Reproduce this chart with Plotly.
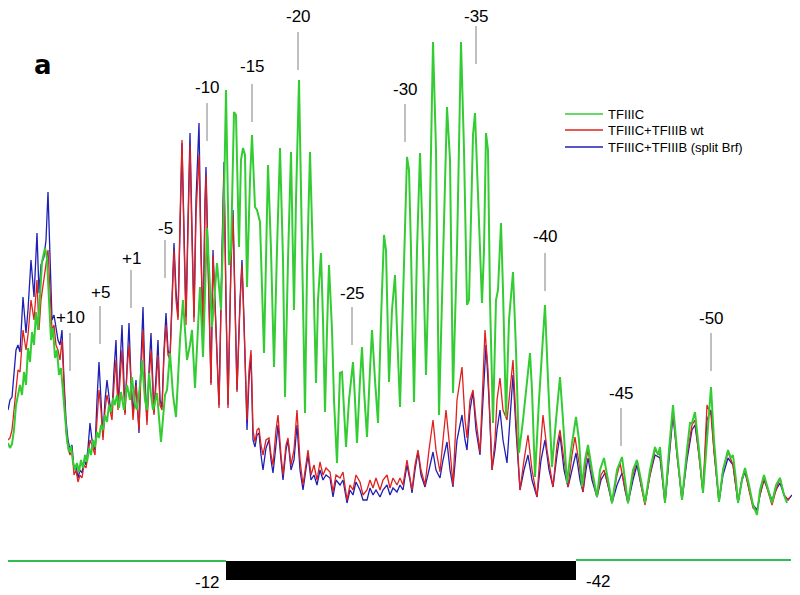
import plotly.graph_objects as go

green_x = [8,10,12,14,16,18,20,22,24,26,28,30,32,34,36,38,40,42,45,47,49,51,53,55,57,59,61,63,65,67,69,71,73,75,77,79,81,83,85,87,89,91,93,95,97,99,101,103,105,107,109,111,113,115,117,119,121,124,127,130,132,135,137,140,142,145,147,149,151,153,157,161,165,167,170,173,176,180,183,187,190,192,195,198,200,203,205,207,212,215,217,221,224,226,
           229,231,234,236,239,241,243,245,247,250,252,255,257,260,264,266,268,271,274,277,280,283,285,288,291,294,296,299,302,305,307,310,313,316,318,321,323,325,327,329,332,334,337,340,342,344,346,349,353,355,357,360,362,364,367,370,372,375,378,381,384,386,389,392,395,397,400,403,407,409,411,414,417,420,423,426,429,433,436,439,443,447,450,453,457,461,464,467,469,471,473,475,478,482,484,486,488,490,493,496,498,501,503,506,509,511,513,516,519,523,527,530,532,535,539,543,545,548,552,556,560,563,567,571,576,579,582,585,588,592,597,600,604,608,612,617,622,625,628,633,637,641,645,650,655,658,660,663,665,669,673,677,682,687,690,692,695,699,703,707,711,714,719,723,728,731,733,736,738,742,745,749,753,757,760,764,768,772,776,780,784,787]
green_y = [443,448,444,430,405,395,385,395,372,385,348,362,332,345,312,330,300,262,248,258,300,340,328,358,350,375,368,395,420,440,452,446,462,470,463,472,460,468,455,462,448,455,440,447,432,438,425,430,415,422,405,412,398,405,395,408,392,410,385,400,377,405,410,385,360,400,410,373,395,410,393,442,395,390,353,395,417,340,300,360,345,330,388,320,287,357,300,228,327,290,263,310,200,90,
           265,250,112,115,247,160,148,155,287,180,135,207,210,222,353,260,165,250,367,250,148,260,397,260,152,310,200,80,250,413,270,152,260,383,300,253,320,412,330,265,330,400,463,373,372,410,447,400,362,400,443,380,347,390,437,370,330,380,423,320,235,250,382,310,275,330,407,300,157,170,250,402,250,153,250,375,260,42,150,415,250,107,160,393,250,42,150,305,300,200,135,113,200,303,250,133,150,300,423,300,290,223,290,417,320,297,272,350,453,420,380,353,390,477,400,330,305,380,467,420,377,420,483,450,417,440,487,460,445,470,497,470,458,480,503,470,457,480,503,470,460,480,503,470,447,455,447,480,503,450,405,450,500,450,423,423,412,450,493,440,387,440,502,470,450,458,455,480,503,480,468,485,505,515,490,475,490,503,485,478,495,503]

red_x = [8,10,12,14,16,18,20,23,26,28,31,34,37,39,41,44,46,48,50,52,54,56,58,60,62,64,66,68,70,72,74,76,78,80,82,84,86,88,90,92,95,97,99,101,103,105,107,110,112,114,116,118,120,122,125,127,129,131,133,136,139,141,143,145,147,149,151,154,156,158,160,162,164,166,168,170,172,174,176,178,180,182,184,186,188,190,192,194,196,199,201,203,205,206,209,211,213,216,219,222,224,226,228,231,233,235,237,240,242,244,247,249,251,253,255,257,259,261,263,266,269,271,273,276,278,281,283,286,288,291,294,297,300,303,306,308,311,314,317,320,323,326,330,333,336,340,343,347,350,353,356,360,363,367,370,373,376,380,383,387,390,393,397,400,403,407,410,412,415,418,421,425,429,433,436,440,443,446,450,453,457,462,465,467,470,473,476,480,483,485,488,492,495,497,500,503,507,510,513,516,520,524,528,532,537,541,543,547,553,557,560,564,568,572,575,580,583,586,588,592,597,601,604,609,612,617,620,625,628,633,637,641,645,650,655,660,665,669,673,677,682,687,692,695,699,703,707,711,714,719,723,728,733,738,742,745,749,753,757,760,764,768,772,776,780,784,788,790]
red_y = [440,438,430,410,385,370,372,330,350,335,300,320,280,330,300,280,265,250,290,330,325,345,350,360,340,390,430,448,455,450,475,470,482,475,478,465,468,455,440,445,455,420,390,410,440,410,395,410,420,385,360,410,380,350,415,370,345,390,420,385,430,375,330,390,425,380,350,415,385,355,405,410,355,325,355,360,305,250,300,320,220,140,240,325,230,145,240,322,215,155,255,335,210,175,305,385,255,325,408,260,172,305,408,265,215,305,392,305,265,325,420,370,350,430,442,430,428,445,455,440,438,455,465,430,415,455,475,445,438,465,450,410,460,485,462,450,475,465,480,462,475,468,472,492,475,478,472,500,485,490,475,482,495,490,480,488,478,490,480,475,488,478,485,478,485,460,478,490,465,450,470,485,450,420,450,472,440,410,450,485,400,367,420,438,400,390,420,452,380,330,370,470,440,400,378,410,420,390,360,420,490,460,435,470,497,440,415,450,487,445,430,460,487,455,437,470,492,460,450,475,497,475,470,488,503,475,463,488,503,475,460,485,505,475,450,455,503,455,410,455,500,455,425,420,455,493,405,415,452,502,470,452,465,503,478,470,490,508,512,495,478,492,505,490,478,495,500,497]

blue_x = [8,10,12,14,16,18,20,23,26,28,31,34,37,39,41,44,46,48,50,52,54,56,58,60,62,64,66,68,70,72,74,76,78,80,82,84,86,88,90,92,95,97,99,101,103,105,107,110,112,114,116,118,120,122,125,127,129,131,133,136,139,141,143,145,147,149,151,154,156,158,160,162,164,166,168,170,172,174,176,178,180,182,184,186,188,190,192,194,196,199,201,203,205,206,209,211,213,216,219,222,224,226,228,231,233,235,237,240,242,244,247,249,251,253,255,257,259,261,263,266,269,271,273,276,278,281,283,286,288,291,294,297,300,303,306,308,311,314,317,320,323,326,330,333,336,340,343,347,350,353,356,360,363,367,370,373,376,380,383,387,390,393,397,400,403,407,410,412,415,418,421,425,429,433,436,440,443,447,450,453,457,462,465,467,470,473,476,480,483,486,489,492,495,497,500,503,507,510,513,516,520,524,528,532,537,541,545,549,553,557,560,564,568,572,576,580,583,586,588,592,597,601,605,609,612,617,622,625,628,633,637,641,645,650,655,660,665,669,673,677,682,687,692,695,699,703,707,711,714,719,723,728,733,738,742,745,749,753,757,760,764,768,772,776,780,784,788,792]
blue_y = [410,400,397,370,350,345,352,297,333,310,260,297,233,293,265,257,240,192,260,320,315,330,340,345,330,380,420,440,450,445,470,465,478,470,473,460,465,448,423,440,450,400,362,400,437,400,380,405,413,370,340,407,360,325,413,360,323,380,413,380,433,360,307,380,420,370,333,413,380,340,400,407,350,313,350,357,300,243,290,317,230,143,230,317,220,133,230,317,200,123,250,330,200,167,300,383,250,320,405,250,162,300,405,260,210,300,390,300,260,320,430,380,355,440,447,435,433,455,470,448,440,460,473,445,425,460,480,450,440,470,460,425,470,490,470,455,480,475,485,470,480,475,478,497,480,485,480,503,490,495,482,490,500,500,488,495,490,497,490,485,495,488,492,485,490,465,480,493,470,452,475,487,470,452,470,478,460,442,470,487,440,415,440,450,410,392,430,455,400,345,400,470,450,430,410,440,463,420,375,430,490,470,455,480,497,460,440,470,487,455,435,470,487,470,453,480,492,470,458,480,497,480,473,490,503,485,473,490,503,480,465,485,503,475,455,458,503,460,415,455,500,460,430,425,455,493,420,410,450,502,475,458,465,503,480,472,490,505,510,495,480,490,500,490,483,495,500,495]

# band labels (nucleotide positions) and where they sit along the trace
band_labels = ["+10", "+5", "+1", "-5", "-10", "-15", "-20", "-25", "-30", "-35", "-40", "-45", "-50"]
band_pos = [70, 100, 131, 165, 207, 252, 298, 352, 405, 476, 545, 621, 711]
band_tick_top = [333, 306, 270, 240, 103, 84, 32, 307, 104, 26, 253, 408, 333]
band_label_y = [317, 292, 258, 228, 87, 66, 16, 293, 89, 16, 236, 393, 318]

series_names = ["TFIIIC", "TFIIIC+TFIIIB wt", "TFIIIC+TFIIIB (split Brf)"]
series_colors = ["#33cc33", "#e0201c", "#1f1fb4"]

# page has an 8px body margin: draw a 792x587 figure whose ranges map data units to page pixels
OFF = 8
W, H = 800 - OFF, 595 - OFF
XR = [OFF, 800]
YR = [595, OFF]

fig = go.Figure()
fig.add_trace(go.Scatter(x=blue_x, y=blue_y, mode="lines", name=series_names[2],
                         line=dict(color=series_colors[2], width=1.3), showlegend=False))
fig.add_trace(go.Scatter(x=red_x, y=red_y, mode="lines", name=series_names[1],
                         line=dict(color=series_colors[1], width=1.3), showlegend=False))
fig.add_trace(go.Scatter(x=green_x, y=green_y, mode="lines", name=series_names[0],
                         line=dict(color=series_colors[0], width=2), showlegend=False))

legend_rows = [114, 130, 147]
legend_keys = ["legend", "legend2", "legend3"]
legend_font = dict(family="Liberation Sans, Arial", size=13, color="black")
leg_layout = {}
for nm, col, row, key in zip(series_names, series_colors, legend_rows, legend_keys):
    fig.add_trace(go.Scatter(x=[None], y=[None], mode="lines", name=nm, legend=key,
                             line=dict(color=col, width=1.6)))
    leg_layout[key] = dict(x=(560 - OFF) / W, y=1 - (row - OFF) / H, xanchor="left", yanchor="middle",
                           bgcolor="rgba(0,0,0,0)", borderwidth=0, itemwidth=38,
                           font=legend_font)

font_lbl = dict(family="Liberation Sans, Arial", size=17, color="black")
for lab, xp, top, ly in zip(band_labels, band_pos, band_tick_top, band_label_y):
    fig.add_shape(type="line", x0=xp, x1=xp, y0=top, y1=top + 38,
                  line=dict(color="#808080", width=1))
    fig.add_annotation(x=xp, y=ly, text=lab, showarrow=False,
                       xanchor="center", yanchor="middle", font=font_lbl)

fig.add_annotation(x=43, y=65, text="<b>a</b>", showarrow=False, xanchor="center",
                   yanchor="middle", font=dict(family="DejaVu Sans", size=26, color="black"))

# footprint bar
fig.add_shape(type="line", x0=8, x1=226, y0=561, y1=561, line=dict(color="#33bb55", width=2))
fig.add_shape(type="rect", x0=226, x1=576, y0=561, y1=580, fillcolor="black", line=dict(width=0))
fig.add_shape(type="line", x0=576, x1=791, y0=560, y1=560, line=dict(color="#33bb55", width=2))
fig.add_annotation(x=207, y=582, text="-12", showarrow=False, font=font_lbl, yanchor="middle")
fig.add_annotation(x=598, y=581, text="-42", showarrow=False, font=font_lbl, yanchor="middle")

fig.update_layout(
    width=W, height=H, margin=dict(l=0, r=0, t=0, b=0),
    paper_bgcolor="white", plot_bgcolor="white",
    xaxis=dict(range=XR, visible=False, fixedrange=True),
    yaxis=dict(range=YR, visible=False, fixedrange=True),
    **leg_layout,
)
fig.write_html("out.html")
